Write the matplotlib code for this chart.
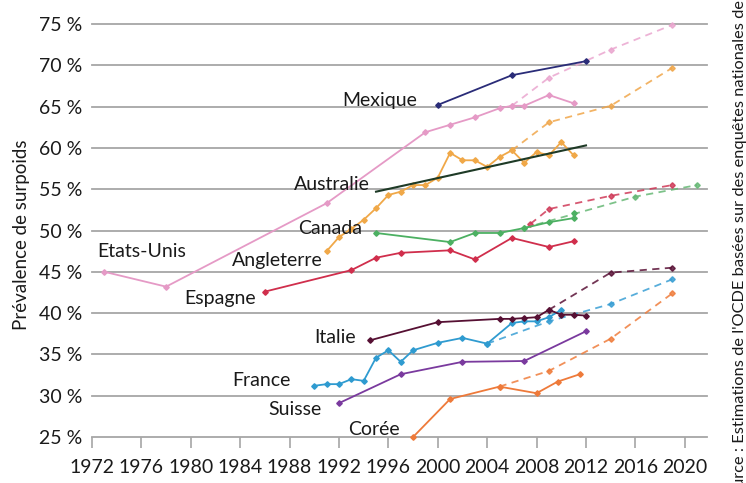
import matplotlib.pyplot as plt
import numpy as np

plt.rcParams['font.family'] = ['Lato', 'DejaVu Sans']

# --- data (% overweight) ---
usa_years = [1973, 1978, 1991, 1999, 2001, 2003, 2005, 2006, 2007, 2009, 2011]
usa_vals = [45.0, 43.2, 53.3, 61.9, 62.8, 63.7, 64.8, 65.1, 65.1, 66.4, 65.4]
usa_proj_years = [2006, 2009, 2014, 2019]
usa_proj_vals = [65.1, 68.5, 71.9, 74.9]

mex_years = [2000, 2006, 2012]
mex_vals = [65.2, 68.8, 70.5]

aus_years = [1995, 2012]
aus_vals = [54.7, 60.3]

eng_years = list(range(1991, 2012))
eng_vals = [47.5, 49.2, 50.2, 51.3, 52.7, 54.3, 54.7, 55.5, 55.5, 56.4, 59.4,
            58.5, 58.5, 57.7, 58.9, 59.7, 58.2, 59.5, 59.1, 60.7, 59.1]
eng_proj_years = [2006, 2009, 2014, 2019]
eng_proj_vals = [59.7, 63.1, 65.1, 69.7]

can_years = [1995, 2001, 2003, 2005, 2007, 2009, 2011, 2011]
can_vals = [49.7, 48.6, 49.7, 49.7, 50.3, 51.0, 51.5, 52.1]
can_proj_years = [2007, 2016, 2021]
can_proj_vals = [50.3, 54.1, 55.5]

esp_years = [1986, 1993, 1995, 1997, 2001, 2003, 2006, 2009, 2011]
esp_vals = [42.6, 45.2, 46.7, 47.3, 47.6, 46.5, 49.1, 48.0, 48.7]
esp_proj_years = [2007.5, 2009, 2014, 2019]
esp_proj_vals = [50.8, 52.6, 54.2, 55.5]

ita_years = [1994.5, 2000, 2005, 2006, 2007, 2008, 2009, 2010, 2011, 2012]
ita_vals = [36.7, 38.9, 39.3, 39.3, 39.4, 39.5, 40.4, 39.8, 39.8, 39.7]
ita_proj_years = [2009, 2014, 2019]
ita_proj_vals = [40.4, 44.9, 45.5]

fra_years = [1990, 1991, 1992, 1993, 1994, 1995, 1996, 1997, 1998, 2000, 2002,
             2004, 2006, 2007, 2008, 2009, 2010]
fra_vals = [31.2, 31.4, 31.4, 32.0, 31.8, 34.6, 35.5, 34.1, 35.5, 36.4, 37.0,
            36.3, 38.8, 39.0, 39.0, 39.5, 40.4]
fra_proj_years = [2004, 2009, 2014, 2019]
fra_proj_vals = [36.3, 39.0, 41.1, 44.1]

sui_years = [1992, 1997, 2002, 2007, 2012]
sui_vals = [29.1, 32.6, 34.1, 34.2, 37.8]

kor_years = [1998, 2001, 2005, 2008, 2009.7, 2011.5]
kor_vals = [25.0, 29.6, 31.1, 30.3, 31.7, 32.6]
kor_proj_years = [2005, 2009, 2014, 2019]
kor_proj_vals = [31.1, 33.0, 36.9, 42.4]

x_ticks = list(range(1972, 2021, 4))
y_ticks = list(range(25, 76, 5))

# (label, x, y, ha) -- label anchors in data coordinates
labels = [
    ("Mexique", 1998.3, 65.7, 'right'),
    ("Australie", 1994.5, 55.6, 'right'),
    ("Canada", 1993.9, 50.3, 'right'),
    ("Angleterre", 1990.7, 46.4, 'right'),
    ("Etats-Unis", 1972.4, 47.4, 'left'),
    ("Espagne", 1985.3, 41.8, 'right'),
    ("Italie", 1993.4, 37.1, 'right'),
    ("France", 1988.1, 31.8, 'right'),
    ("Suisse", 1990.6, 28.3, 'right'),
    ("Corée", 1996.9, 25.85, 'right'),
]

fig = plt.figure(figsize=(7.46, 4.83), dpi=100)
ax = fig.add_axes([92 / 746, 1 - 437 / 483, 615 / 746, 413 / 483])

for v in y_ticks:
    ax.axhline(v, color='#a6a6a6', lw=1.3, zorder=0, clip_on=False)

def solid(x, y, c, z=3):
    ax.plot(x, y, color=c, lw=1.3, marker='D', ms=2.8, zorder=z, clip_on=False)

def dashed(x, y, c):
    ax.plot(x, y, color=c, lw=1.3, ls=(0, (4, 3)), marker='D', ms=2.8,
            alpha=0.85, zorder=2, clip_on=False)

dashed(usa_proj_years, usa_proj_vals, '#eaa6cf')
dashed(eng_proj_years, eng_proj_vals, '#f0a64a')
dashed(can_proj_years, can_proj_vals, '#66b875')
dashed(esp_proj_years, esp_proj_vals, '#cf3a58')
dashed(ita_proj_years, ita_proj_vals, '#5a1237')
dashed(fra_proj_years, fra_proj_vals, '#3a9fd4')
dashed(kor_proj_years, kor_proj_vals, '#ef7d3c')

solid(usa_years, usa_vals, '#e59ac6')
solid(eng_years, eng_vals, '#f0a848')
solid(can_years, can_vals, '#4cb062')
solid(esp_years, esp_vals, '#d02e4c')
solid(fra_years, fra_vals, '#2f9bd0')
solid(sui_years, sui_vals, '#7a3a9e')
solid(kor_years, kor_vals, '#ee7a3a')
solid(ita_years, ita_vals, '#561033', z=4)
ax.plot(aus_years, aus_vals, color='#1e3a26', lw=1.5, zorder=4)
solid(mex_years, mex_vals, '#2a2c78', z=5)

for text, x, y, ha in labels:
    ax.text(x, y, text, ha=ha, va='center', fontsize=14, color='#1a1a1a', zorder=6)

ax.set_xlim(1972, 2021.8)
ax.set_ylim(25, 75)
ax.set_xticks(x_ticks)
ax.set_yticks(y_ticks)
ax.set_yticklabels([f"{v} %" for v in y_ticks])
ax.tick_params(axis='x', length=8, width=1.2, color='#a6a6a6', pad=8,
               labelsize=14, labelcolor='#1a1a1a')
ax.tick_params(axis='y', length=0, pad=7, labelsize=14, labelcolor='#1a1a1a')
for s in ax.spines.values():
    s.set_visible(False)

fig.text(22 / 746, 1 - 235 / 483, "Prévalence de surpoids", rotation=90,
         ha='center', va='center', fontsize=13.5, color='#1a1a1a')
# source note runs past both edges of the picture, as in the original
fig.text(740 / 746, -22 / 483,
         "Source : Estimations de l'OCDE basées sur des enquêtes nationales de santé",
         rotation=90, rotation_mode='anchor', ha='left', va='center',
         fontsize=11.8, color='#1a1a1a')

fig.savefig('out.png', dpi=100)
